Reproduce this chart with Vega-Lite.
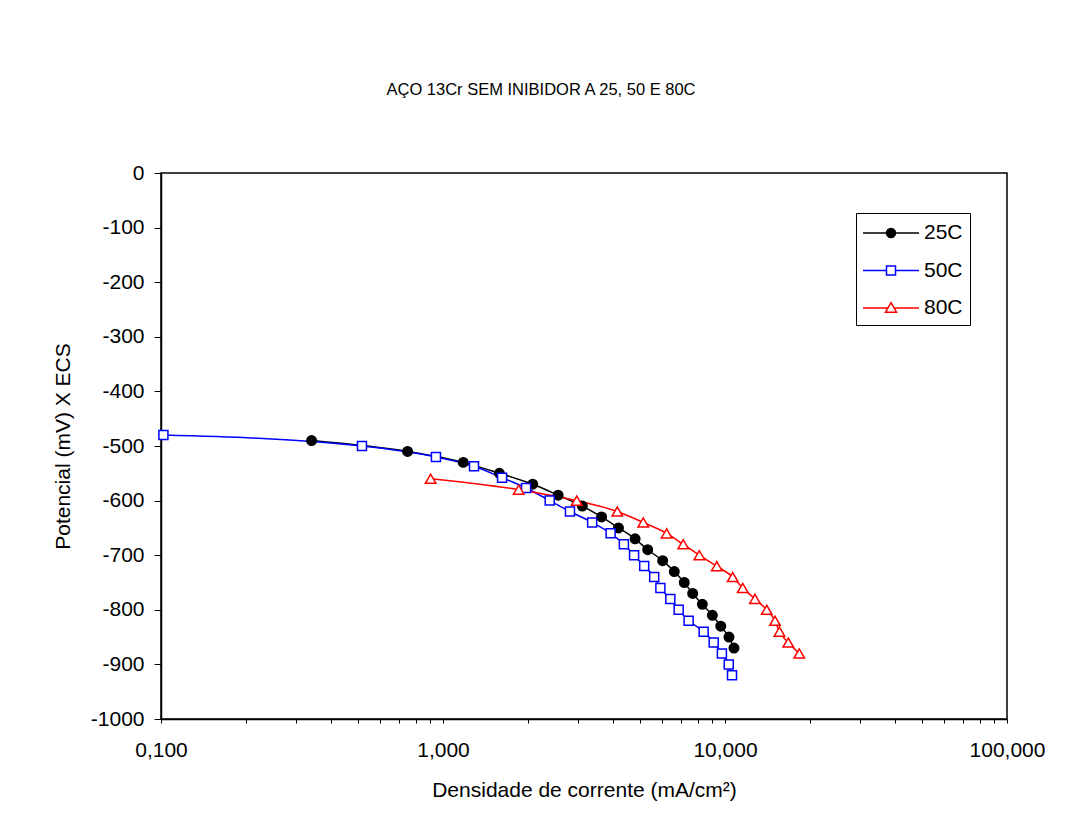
{
  "$schema": "https://vega.github.io/schema/vega-lite/v6.json",
  "autosize": {"type": "none"},
  "width": 846,
  "height": 546,
  "padding": {"left": 161, "top": 173, "right": 75, "bottom": 106},
  "background": "white",
  "config": {
    "font": "Liberation Sans",
    "view": {"stroke": "black", "strokeWidth": 1.5}
  },
  "title": {
    "text": "AÇO 13Cr SEM INIBIDOR A 25, 50 E 80C",
    "fontSize": 16.5,
    "fontWeight": "normal",
    "font": "Liberation Sans",
    "color": "black",
    "anchor": "middle",
    "baseline": "alphabetic",
    "offset": 51,
    "dx": -43
  },
  "data": {
    "values": [
      {"serie": "25C", "corrente": 0.342, "potencial": -490},
      {"serie": "25C", "corrente": 0.749, "potencial": -510},
      {"serie": "25C", "corrente": 1.18, "potencial": -530},
      {"serie": "25C", "corrente": 1.585, "potencial": -550},
      {"serie": "25C", "corrente": 2.08, "potencial": -570},
      {"serie": "25C", "corrente": 2.56, "potencial": -590},
      {"serie": "25C", "corrente": 3.12, "potencial": -610},
      {"serie": "25C", "corrente": 3.65, "potencial": -630},
      {"serie": "25C", "corrente": 4.19, "potencial": -650},
      {"serie": "25C", "corrente": 4.8, "potencial": -670},
      {"serie": "25C", "corrente": 5.32, "potencial": -690},
      {"serie": "25C", "corrente": 6.01, "potencial": -710},
      {"serie": "25C", "corrente": 6.61, "potencial": -730},
      {"serie": "25C", "corrente": 7.17, "potencial": -750},
      {"serie": "25C", "corrente": 7.68, "potencial": -770},
      {"serie": "25C", "corrente": 8.31, "potencial": -790},
      {"serie": "25C", "corrente": 9.02, "potencial": -810},
      {"serie": "25C", "corrente": 9.66, "potencial": -830},
      {"serie": "25C", "corrente": 10.33, "potencial": -850},
      {"serie": "25C", "corrente": 10.76, "potencial": -870},
      {"serie": "50C", "corrente": 0.102, "potencial": -480},
      {"serie": "50C", "corrente": 0.516, "potencial": -500},
      {"serie": "50C", "corrente": 0.944, "potencial": -520},
      {"serie": "50C", "corrente": 1.288, "potencial": -537},
      {"serie": "50C", "corrente": 1.62, "potencial": -558},
      {"serie": "50C", "corrente": 1.97, "potencial": -577},
      {"serie": "50C", "corrente": 2.39, "potencial": -600},
      {"serie": "50C", "corrente": 2.82, "potencial": -620},
      {"serie": "50C", "corrente": 3.38, "potencial": -640},
      {"serie": "50C", "corrente": 3.93, "potencial": -660},
      {"serie": "50C", "corrente": 4.38, "potencial": -680},
      {"serie": "50C", "corrente": 4.76, "potencial": -700},
      {"serie": "50C", "corrente": 5.17, "potencial": -720},
      {"serie": "50C", "corrente": 5.61, "potencial": -740},
      {"serie": "50C", "corrente": 5.9, "potencial": -760},
      {"serie": "50C", "corrente": 6.4, "potencial": -780},
      {"serie": "50C", "corrente": 6.85, "potencial": -800},
      {"serie": "50C", "corrente": 7.43, "potencial": -820},
      {"serie": "50C", "corrente": 8.4, "potencial": -840},
      {"serie": "50C", "corrente": 9.12, "potencial": -860},
      {"serie": "50C", "corrente": 9.75, "potencial": -880},
      {"serie": "50C", "corrente": 10.31, "potencial": -900},
      {"serie": "50C", "corrente": 10.59, "potencial": -920},
      {"serie": "80C", "corrente": 0.904, "potencial": -560},
      {"serie": "80C", "corrente": 1.855, "potencial": -580},
      {"serie": "80C", "corrente": 2.98, "potencial": -600},
      {"serie": "80C", "corrente": 4.15, "potencial": -620},
      {"serie": "80C", "corrente": 5.13, "potencial": -640},
      {"serie": "80C", "corrente": 6.21, "potencial": -660},
      {"serie": "80C", "corrente": 7.11, "potencial": -680},
      {"serie": "80C", "corrente": 8.11, "potencial": -700},
      {"serie": "80C", "corrente": 9.35, "potencial": -720},
      {"serie": "80C", "corrente": 10.65, "potencial": -740},
      {"serie": "80C", "corrente": 11.56, "potencial": -760},
      {"serie": "80C", "corrente": 12.77, "potencial": -780},
      {"serie": "80C", "corrente": 14.06, "potencial": -800},
      {"serie": "80C", "corrente": 15.04, "potencial": -820},
      {"serie": "80C", "corrente": 15.6, "potencial": -840},
      {"serie": "80C", "corrente": 16.76, "potencial": -860},
      {"serie": "80C", "corrente": 18.34, "potencial": -880}
    ]
  },
  "encoding": {
    "x": {
      "field": "corrente",
      "type": "quantitative",
      "scale": {"type": "log", "domain": [0.1, 100], "nice": false},
      "axis": {
        "title": "Densidade de corrente (mA/cm²)",
        "values": [0.1, 0.2, 0.3, 0.4, 0.5, 0.6, 0.7, 0.8, 0.9, 1, 2, 3, 4, 5, 6, 7, 8, 9, 10, 20, 30, 40, 50, 60, 70, 80, 90, 100],
        "labelExpr": "abs(log(datum.value)/LN10 - round(log(datum.value)/LN10)) < 0.000001 ? replace(format(datum.value, '.3f'), '.', ',') : ''",
        "labelOverlap": false,
        "labelFlush": false,
        "labelFontSize": 21,
        "labelColor": "black",
        "labelPadding": 16,
        "tickSize": 4,
        "tickColor": "black",
        "tickWidth": 1,
        "domainColor": "black",
        "domainWidth": 1.5,
        "grid": false,
        "titleFontSize": 21,
        "titleFontWeight": "normal",
        "titleColor": "black",
        "titlePadding": 19,
        "encode": {
          "ticks": {
            "update": {
              "y": {"value": -4}
            }
          }
        }
      }
    },
    "y": {
      "field": "potencial",
      "type": "quantitative",
      "scale": {"domain": [-1000, 0], "nice": false, "zero": false},
      "axis": {
        "title": "Potencial (mV) X ECS",
        "values": [0, -100, -200, -300, -400, -500, -600, -700, -800, -900, -1000],
        "labelExpr": "datum.value + ''",
        "labelFontSize": 21,
        "labelColor": "black",
        "labelPadding": 10,
        "tickSize": 7,
        "tickColor": "black",
        "domainColor": "black",
        "domainWidth": 1.5,
        "grid": false,
        "titleFontSize": 21,
        "titleFontWeight": "normal",
        "titleColor": "black",
        "titlePadding": 17
      }
    },
    "stroke": {
      "field": "serie",
      "type": "nominal",
      "scale": {"domain": ["25C", "50C", "80C"], "range": ["#000000", "#0000FF", "#FF0000"]},
      "legend": {
        "title": null,
        "orient": "none",
        "legendX": 695,
        "legendY": 40,
        "fillColor": "white",
        "strokeColor": "black",
        "padding": 7,
        "symbolSize": 576,
        "symbolStrokeWidth": 1.5,
        "symbolOffset": 15,
        "labelOffset": 20,
        "rowPadding": 14.5,
        "labelFontSize": 21,
        "labelColor": "black",
        "encode": {
          "symbols": {
            "update": {
              "shape": {"signal": "datum.value === '25C' ? 'M-2.333,0H-0.375M0.375,0H2.333M-0.375,0A0.375,0.375,0,1,1,0.375,0A0.375,0.375,0,1,1,-0.375,0Z' : datum.value === '50C' ? 'M-2.333,0H-0.375M0.375,0H2.333M-0.375,-0.375H0.375V0.375H-0.375Z' : 'M-2.333,0H-0.255M0.255,0H2.333M0,-0.44L0.458,0.35H-0.458Z'"},
              "fill": {"signal": "datum.value === '25C' ? 'black' : 'white'"},
              "size": {"value": 576},
              "strokeWidth": {"value": 1.5},
              "opacity": {"value": 1}
            }
          }
        }
      }
    }
  },
  "layer": [
    {
      "mark": {"type": "line", "strokeWidth": 1.5, "interpolate": "monotone"}
    },
    {
      "mark": {"type": "point", "filled": true, "strokeWidth": 1.5, "opacity": 1},
      "encoding": {
        "shape": {
          "condition": [
            {"test": "datum.serie === '25C'", "value": "circle"},
            {"test": "datum.serie === '50C'", "value": "square"}
          ],
          "value": "triangle-up"
        },
        "fill": {
          "condition": {"test": "datum.serie === '25C'", "value": "#000000"},
          "value": "#FFFFFF"
        },
        "size": {
          "condition": [
            {"test": "datum.serie === '25C'", "value": 90},
            {"test": "datum.serie === '50C'", "value": 81}
          ],
          "value": 110
        }
      }
    }
  ]
}
